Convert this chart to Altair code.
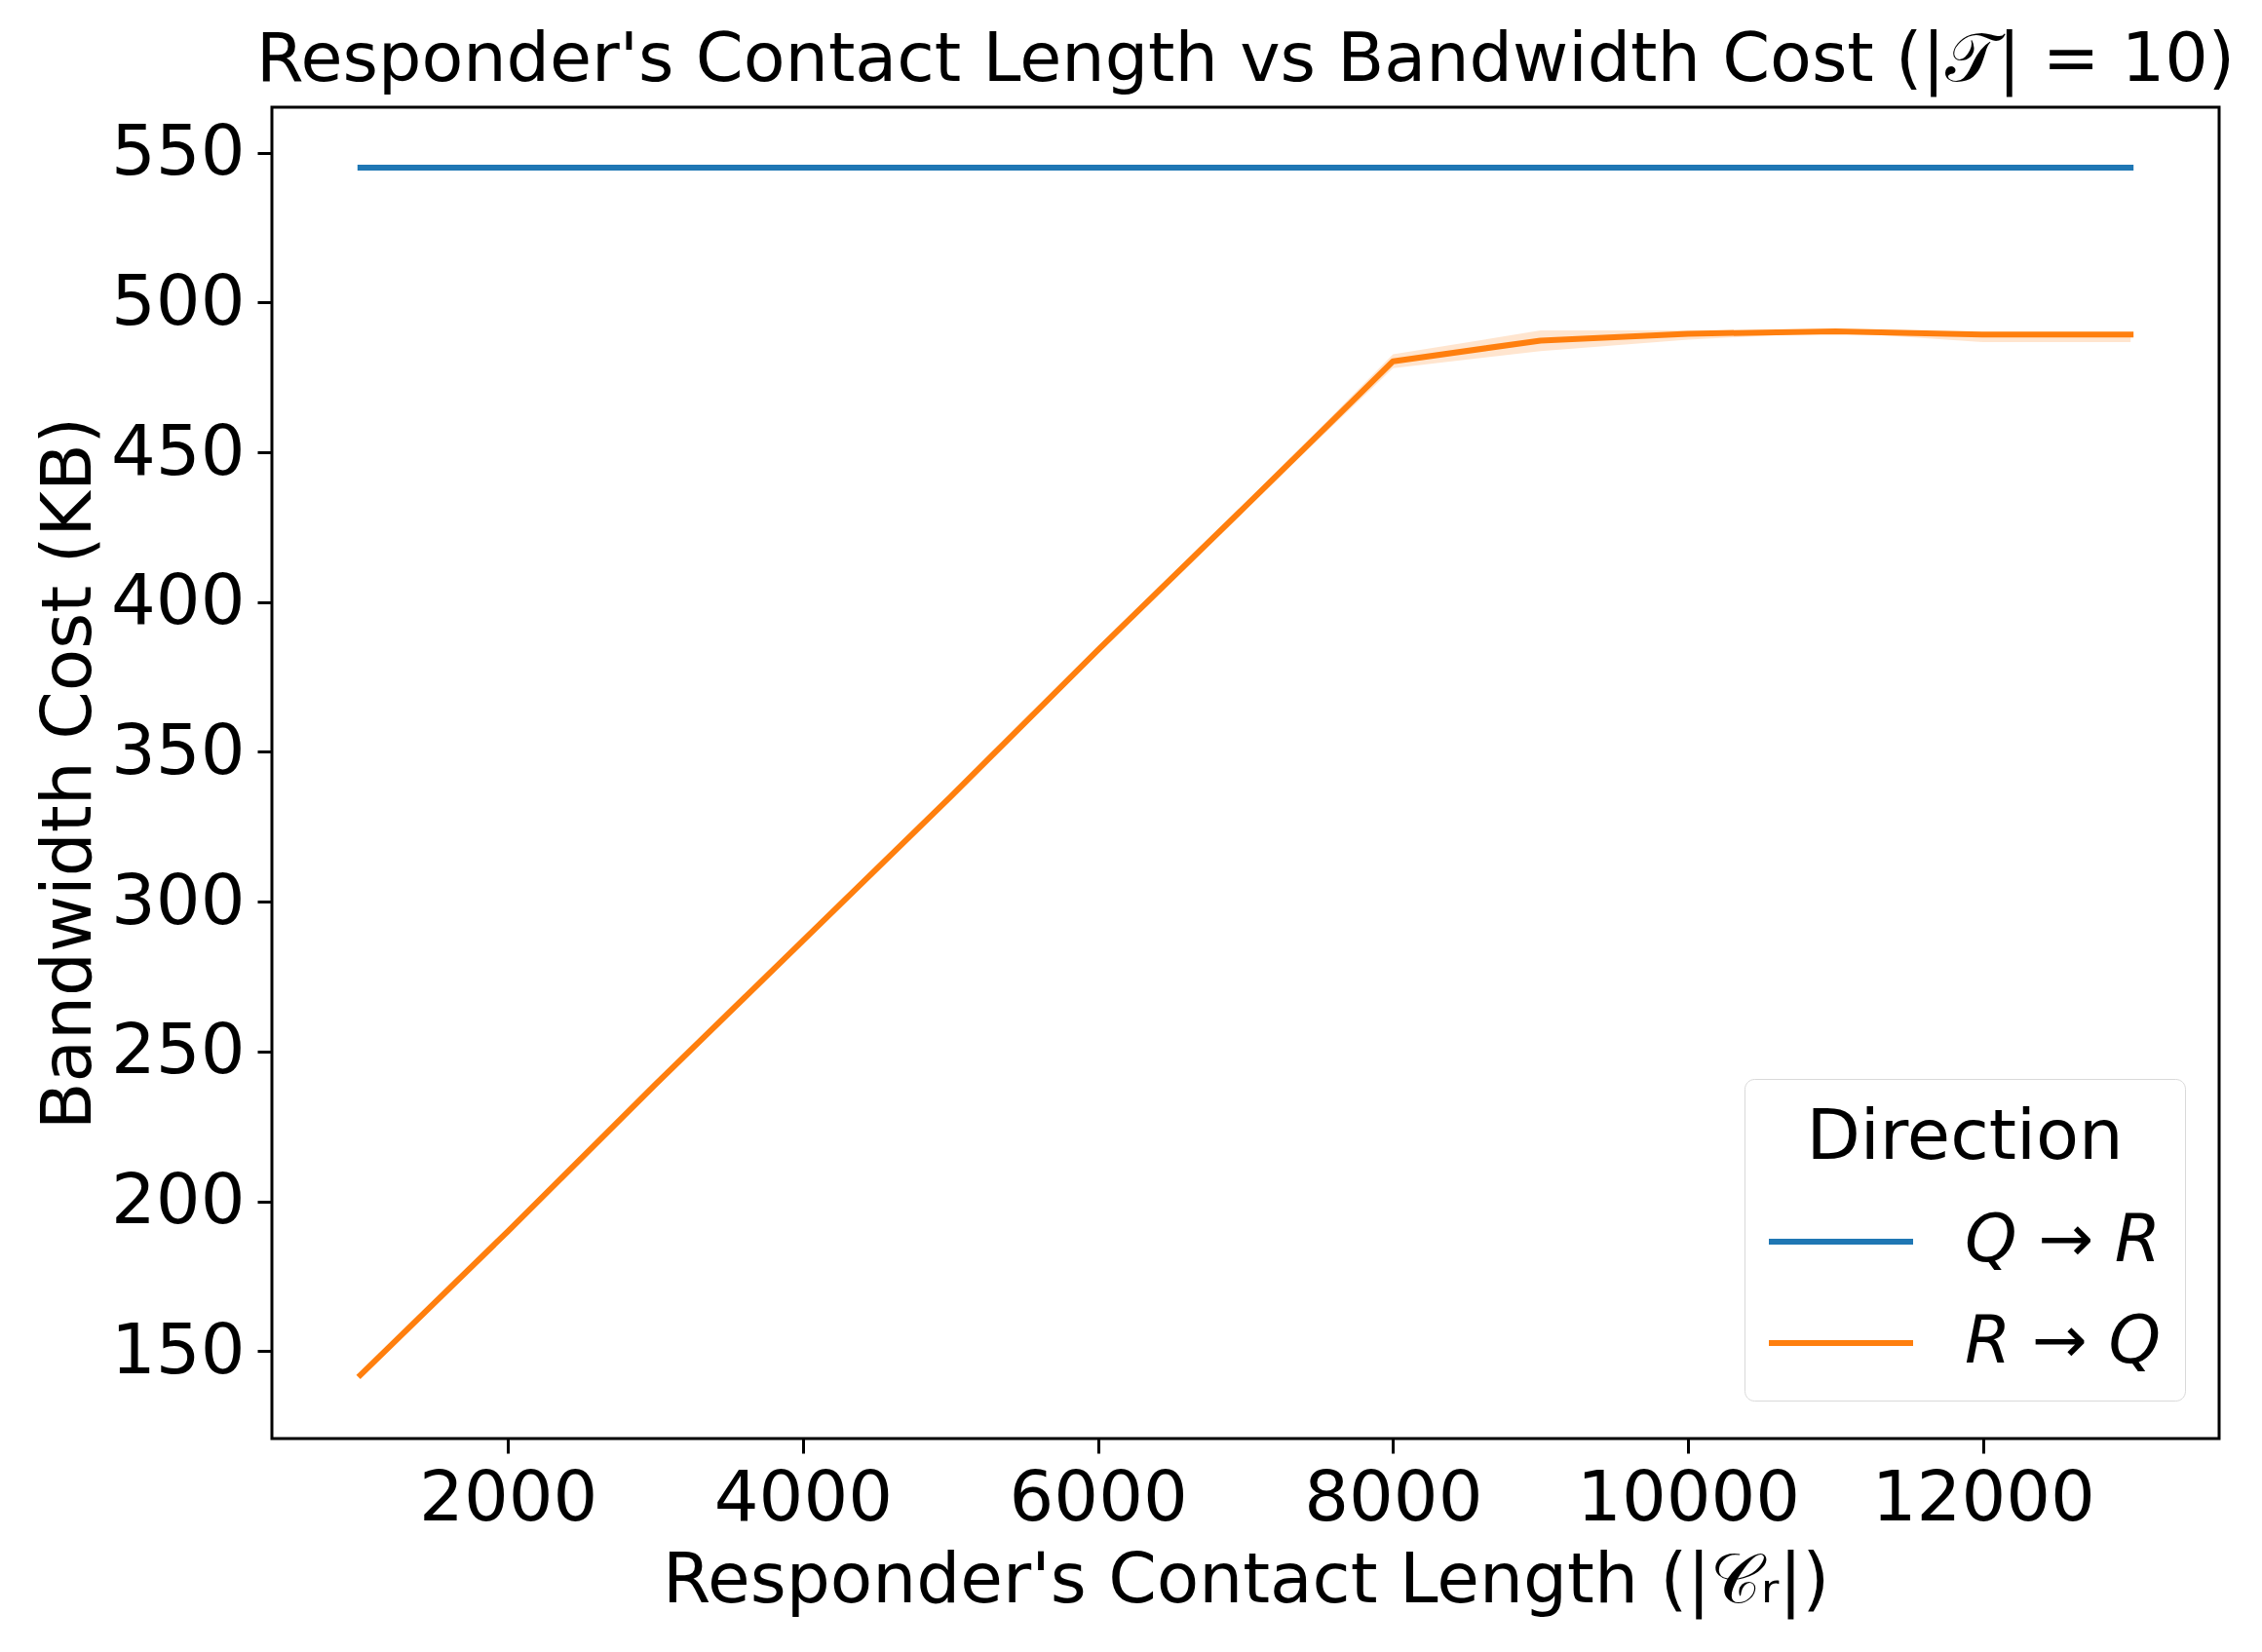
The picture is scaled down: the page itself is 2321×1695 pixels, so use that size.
import altair as alt
import pandas as pd

# Responder contact length (|C_r|)
contact_length = [1000, 2000, 3000, 4000, 5000, 6000, 7000,
                  8000, 9000, 10000, 11000, 12000, 13000]

# Q -> R bandwidth (KB): mean, lower and upper bound
qr_mean = [545, 545, 545, 545, 545, 545, 545, 545, 545, 545, 545, 545, 545]
qr_low = [545, 545, 545, 545, 545, 545, 545, 545, 545, 545, 545, 545, 545]
qr_high = [545, 545, 545, 545, 545, 545, 545, 545, 545, 545, 545, 545, 545]

# R -> Q bandwidth (KB): mean, lower and upper bound
rq_mean = [142, 190, 239, 287, 335, 384, 432, 480.4, 487.3, 489.6, 490.4, 489.3, 489.3]
rq_low = [141, 189, 238, 286, 334, 383, 431, 478.1, 483.8, 487.6, 490.1, 486.8, 486.8]
rq_high = [143, 191, 240, 288, 336, 385, 433, 482.7, 490.7, 490.7, 490.7, 490.1, 490.1]

directions = ["Q → R", "R → Q"]
colors = ["#1f77b4", "#ff7f0e"]

rows = []
for name, mean, low, high in [
    (directions[0], qr_mean, qr_low, qr_high),
    (directions[1], rq_mean, rq_low, rq_high),
]:
    for x, m, lo, hi in zip(contact_length, mean, low, high):
        rows.append({"length": x, "cost": m, "low": lo, "high": hi, "Direction": name})
df = pd.DataFrame(rows)

FONT = "DejaVu Sans"

x_enc = alt.X(
    "length:Q",
    scale=alt.Scale(domain=[400, 13600], nice=False, zero=False),
    axis=alt.Axis(
        title="Responder's Contact Length (|𝒞ᵣ|)",
        values=[2000, 4000, 6000, 8000, 10000, 12000],
        format="d",
        labelLimit=0,
        titleBaseline="alphabetic",
        titleY=167,
    ),
)
y_scale = alt.Scale(domain=[120.8, 565.2], nice=False, zero=False)
color_scale = alt.Scale(domain=directions, range=colors)

band = alt.Chart(df).mark_area(opacity=0.2).encode(
    x=x_enc,
    y=alt.Y("low:Q", scale=y_scale),
    y2="high:Q",
    color=alt.Color("Direction:N", scale=color_scale, legend=None),
)

lines = alt.Chart(df).mark_line(strokeWidth=6, strokeCap="square", strokeJoin="round").encode(
    x=x_enc,
    y=alt.Y(
        "cost:Q",
        scale=y_scale,
        axis=alt.Axis(
            title="Bandwidth Cost (KB)",
            values=[150, 200, 250, 300, 350, 400, 450, 500, 550],
            labelLimit=0,
            titleBaseline="alphabetic",
            titleX=-187,
            titleY=683,
        ),
    ),
    color=alt.Color(
        "Direction:N",
        scale=color_scale,
        legend=alt.Legend(
            title="Direction",
            orient="none",
            legendX=1511,
            legendY=997,
            padding=25,
            fillColor="white",
            strokeColor="#d9d9d9",
            cornerRadius=10,
            # a wide horizontal stroke drawn from a short symbol size
            symbolType="M-2,0L2,0",
            symbolSize=5476,
            symbolStrokeWidth=6,
            symbolOffset=34,
            labelFontSize=68,
            labelFontStyle="italic",
            labelFont=FONT,
            labelColor="black",
            labelOffset=87,
            labelLimit=0,
            titleFontSize=72,
            titleFont=FONT,
            titleColor="black",
            titleFontWeight="normal",
            titleAnchor="middle",
            titleAlign="center",
            titleLimit=0,
            titlePadding=30,
            rowPadding=30,
        ),
    ),
)

chart = (
    alt.layer(band, lines)
    .resolve_legend(color="independent")
    .properties(
        width=1998,
        height=1366,
        padding={"left": 279, "top": 110, "right": 44, "bottom": 219},
        autosize=alt.AutoSizeParams(type="none"),
        title=alt.TitleParams(
            "Responder's Contact Length vs Bandwidth Cost (|𝒯| = 10)",
            font=FONT,
            fontSize=70,
            fontWeight="normal",
            anchor="middle",
            frame="group",
            baseline="alphabetic",
            offset=25,
            dy=68,
            color="black",
        ),
    )
    .configure(background="white")
    .configure_view(stroke="black", strokeWidth=3)
    .configure_axis(
        domain=False,
        grid=False,
        ticks=True,
        tickColor="black",
        tickWidth=3,
        tickSize=15,
        labelFont=FONT,
        labelFontSize=72,
        labelColor="black",
        titleFont=FONT,
        titleFontSize=71,
        titleFontWeight="normal",
        titleColor="black",
    )
    .configure_axisX(labelPadding=11)
    .configure_axisY(labelPadding=13)
)

chart.save("out.html", embed_options={"renderer": "svg", "actions": False})
